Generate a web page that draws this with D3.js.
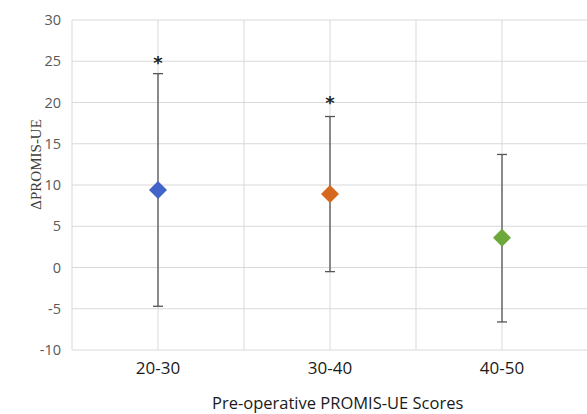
<!DOCTYPE html>
<html>
<head>
<meta charset="utf-8">
<script src="https://cdn.jsdelivr.net/npm/d3@7"></script>
<style>
  body { margin: 0; background: #fff; }
</style>
</head>
<body>
<div id="chart"></div>
<script>
var figw = 587
var figh = 414

// data
var groups = ["20-30", "30-40", "40-50"]
var xpos = [0.5, 1.5, 2.5]
var means = [9.4, 8.9, 3.6]
var upper = [23.5, 18.3, 13.7]
var lower = [-4.7, -0.5, -6.6]
var starY = [25.2, 20.3]  // asterisk heights, first two groups
var colors = ["#4263C8", "#D4691F", "#6CA83A"]
var yTicks = [-10, -5, 0, 5, 10, 15, 20, 25, 30]
var xGrid = [0, 0.5, 1, 1.5, 2, 2.5, 3]

var margin = {top: 20, right: -1, bottom: 64, left: 72},
    width = figw - margin.left - margin.right,
    height = figh - margin.top - margin.bottom;

var svg = d3.select("#chart")
  .append("svg")
    .attr("width", figw)
    .attr("height", figh)
  .append("g")
    .attr("transform", "translate(" + margin.left + "," + margin.top + ")");

var x = d3.scaleLinear().domain([0, 3]).range([0, width])
var y = d3.scaleLinear().domain([-10, 30]).range([height, 0])

// gridlines
svg.append("g")
  .selectAll("line")
  .data(yTicks)
  .enter()
  .append("line")
    .attr("x1", 0).attr("x2", width)
    .attr("y1", function(d) { return y(d) })
    .attr("y2", function(d) { return y(d) })
    .style("stroke", "#d9d9d9")
    .style("stroke-width", 1)

svg.append("g")
  .selectAll("line")
  .data(xGrid)
  .enter()
  .append("line")
    .attr("x1", function(d) { return x(d) })
    .attr("x2", function(d) { return x(d) })
    .attr("y1", 0).attr("y2", height)
    .style("stroke", "#d9d9d9")
    .style("stroke-width", 1)

// y axis labels (plain hyphen for negatives, like the original)
var yAxis = svg.append("g")
  .call(d3.axisLeft(y).tickValues(yTicks).tickSize(0).tickPadding(11)
    .tickFormat(function(d) { return String(d) }))
yAxis.select(".domain").remove()
yAxis.selectAll("text")
  .style("font-family", "'Open Sans', sans-serif")
  .style("font-size", "14.5px")
  .style("fill", "#595959")

// category labels
svg.append("g")
  .selectAll("text")
  .data(groups)
  .enter()
  .append("text")
    .attr("x", function(d, i) { return x(xpos[i]) })
    .attr("y", height + 24)
    .attr("text-anchor", "middle")
    .style("font-family", "'Open Sans', sans-serif")
    .style("font-size", "17px")
    .style("fill", "#1a1a1a")
    .text(function(d) { return d })

svg.append("text")
  .attr("x", 140)
  .attr("y", height + 59)
  .attr("text-anchor", "start")
  .style("font-family", "'Open Sans', sans-serif")
  .style("font-size", "16.5px")
  .style("fill", "#1a1a1a")
  .text("Pre-operative PROMIS-UE Scores")

svg.append("text")
  .attr("transform", "translate(" + (-31) + "," + y(12.5) + ") rotate(-90)")
  .attr("text-anchor", "middle")
  .style("font-family", "'Liberation Serif', serif")
  .style("font-size", "15px")
  .style("fill", "#404040")
  .text("\u0394PROMIS-UE")

// error bars
var eb = svg.append("g")
groups.forEach(function(g, i) {
  var cx = x(xpos[i])
  eb.append("line")
    .attr("x1", cx).attr("x2", cx)
    .attr("y1", y(upper[i])).attr("y2", y(lower[i]))
    .style("stroke", "#555").style("stroke-width", 1.3)
  ;[upper[i], lower[i]].forEach(function(v) {
    eb.append("line")
      .attr("x1", cx - 5).attr("x2", cx + 5)
      .attr("y1", y(v)).attr("y2", y(v))
      .style("stroke", "#555").style("stroke-width", 1.3)
  })
})

// diamonds
svg.append("g")
  .selectAll("path")
  .data(means)
  .enter()
  .append("path")
    .attr("transform", function(d, i) { return "translate(" + x(xpos[i]) + "," + y(d) + ")" })
    .attr("d", "M0,-9L9,0L0,9L-9,0Z")
    .style("fill", function(d, i) { return colors[i] })

// asterisks
svg.append("g")
  .selectAll("text")
  .data(starY)
  .enter()
  .append("text")
    .attr("x", function(d, i) { return x(xpos[i]) })
    .attr("y", function(d) { return y(d) + 9 })
    .attr("text-anchor", "middle")
    .style("font-family", "'DejaVu Sans', sans-serif")
    .style("font-size", "18px")
    .style("font-weight", "bold")
    .style("fill", "#222")
    .text("*")
</script>
</body>
</html>
